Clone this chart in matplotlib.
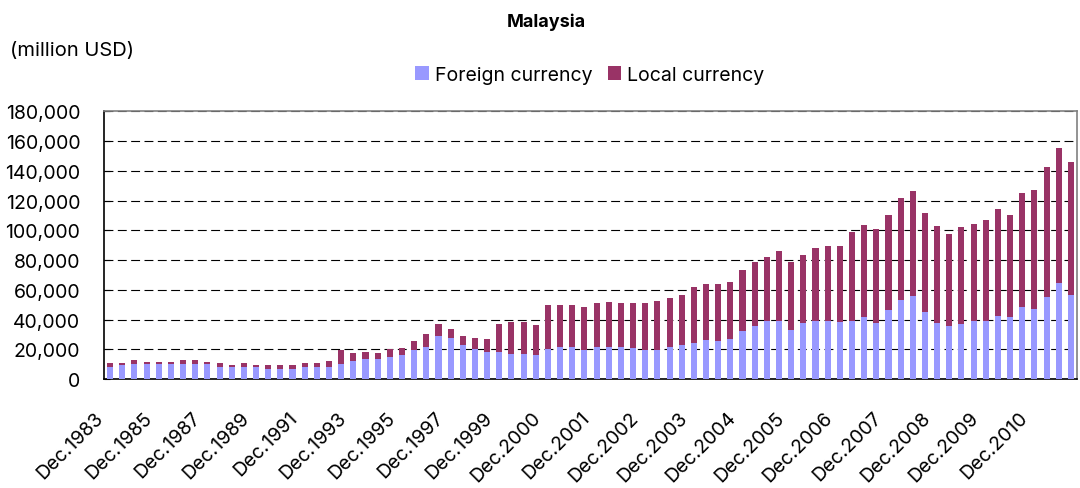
import matplotlib
matplotlib.use("Agg")
import matplotlib.pyplot as plt
import matplotlib.transforms as mtransforms
from matplotlib.ticker import FuncFormatter
import numpy as np

plt.rcParams['font.family'] = ['Inter', 'DejaVu Sans']

# periods: half-yearly Dec.1983 - Dec.1999, then quarterly Mar.2000 - Sep.2011
periods = ["Dec.1983"]
for yr in range(1984, 2000):
    periods += [f"Jun.{yr}", f"Dec.{yr}"]
for yr in range(2000, 2012):
    periods += [f"Mar.{yr}", f"Jun.{yr}", f"Sep.{yr}", f"Dec.{yr}"]
periods = periods[:80]

# million USD
foreign = [8300, 9400, 10100, 10100, 10100, 10100, 10100, 10100, 10100, 8300,
           8300, 8300, 8300, 6700, 6700, 6700, 8300, 8300, 8300, 10100,
           12100, 13500, 13500, 14800, 16200, 19500, 21600, 28900, 27600, 22900,
           20200, 18200, 18200, 16800, 16800, 16200, 20200, 21600, 21600, 19500,
           21600, 21600, 21600, 20900, 19500, 19500, 21600, 22900, 24200, 26300,
           25600, 26900, 32300, 35700, 39100, 39100, 33000, 37700, 39100, 39100,
           38400, 39100, 41800, 37700, 46500, 53200, 55900, 45100, 37700, 35700,
           37000, 39100, 39100, 42400, 41800, 48500, 47100, 55200, 64700, 56600]
local = [2500, 1400, 2700, 1300, 1300, 1300, 2700, 2700, 1300, 2500,
         1100, 2500, 1100, 2700, 2700, 2700, 2500, 2500, 3800, 9400,
         5400, 4700, 4000, 5400, 4700, 6100, 8700, 8100, 6100, 6100,
         7400, 8700, 18800, 21600, 21600, 20200, 29600, 28200, 28200, 29000,
         29600, 30300, 29600, 30300, 31700, 33000, 33000, 33700, 37800, 37700,
         38400, 38400, 41100, 43100, 43100, 47100, 45800, 45800, 49100, 50500,
         51200, 59900, 61900, 63300, 64000, 68700, 70700, 66700, 65300, 62000,
         65400, 65300, 68000, 72100, 68700, 76800, 80200, 87600, 90900, 89500]

fig = plt.figure(figsize=(10.8, 4.89), dpi=100)
ax = fig.add_axes([0.0963, 0.2229, 0.9009, 0.5471])

x = np.arange(len(periods))
ax.bar(x, foreign, width=0.5, color="#9999FF", label="Foreign currency", zorder=3)
ax.bar(x, local, width=0.5, bottom=foreign, color="#993366", label="Local currency", zorder=3)

ax.set_xlim(-0.5, len(periods) - 0.5)
ax.set_ylim(0, 180000)
ax.set_yticks(np.arange(0, 180001, 20000))
ax.yaxis.set_major_formatter(FuncFormatter(lambda v, p: f"{int(v):,}"))
ax.yaxis.grid(True, color="black", linestyle=(0, (8, 4)), linewidth=0.8, zorder=1)

tick_idx = list(range(0, 77, 4))
ax.set_xticks(tick_idx)
ax.set_xticklabels([periods[i] for i in tick_idx], rotation=45, ha="right",
                   va="top", rotation_mode="anchor")

ax.tick_params(axis="x", length=0, pad=21, labelsize=14)
ax.tick_params(axis="y", direction="in", length=4, pad=17, labelsize=14)

# shift the slanted labels left so their ends sit just left of the bar
offset = mtransforms.ScaledTranslation(-16 / 100, 0, fig.dpi_scale_trans)
for lbl in ax.get_xticklabels():
    lbl.set_transform(lbl.get_transform() + offset)

for side in ["top", "right"]:
    ax.spines[side].set_color("#808080")
ax.spines["left"].set_color("black")
ax.spines["bottom"].set_color("black")
for sp in ax.spines.values():
    sp.set_linewidth(1.2)

fig.text(0.506, 0.955, "Malaysia", ha="center", va="center", fontsize=13, fontweight="bold")
fig.text(0.009, 0.895, "(million USD)", ha="left", va="center", fontsize=14.5)
fig.legend(loc="center", bbox_to_anchor=(0.546, 0.845), ncol=2, frameon=False,
           fontsize=14, handlelength=0.7, handleheight=0.7, handletextpad=0.3,
           columnspacing=0.8)

fig.savefig("out.png", dpi=100)
